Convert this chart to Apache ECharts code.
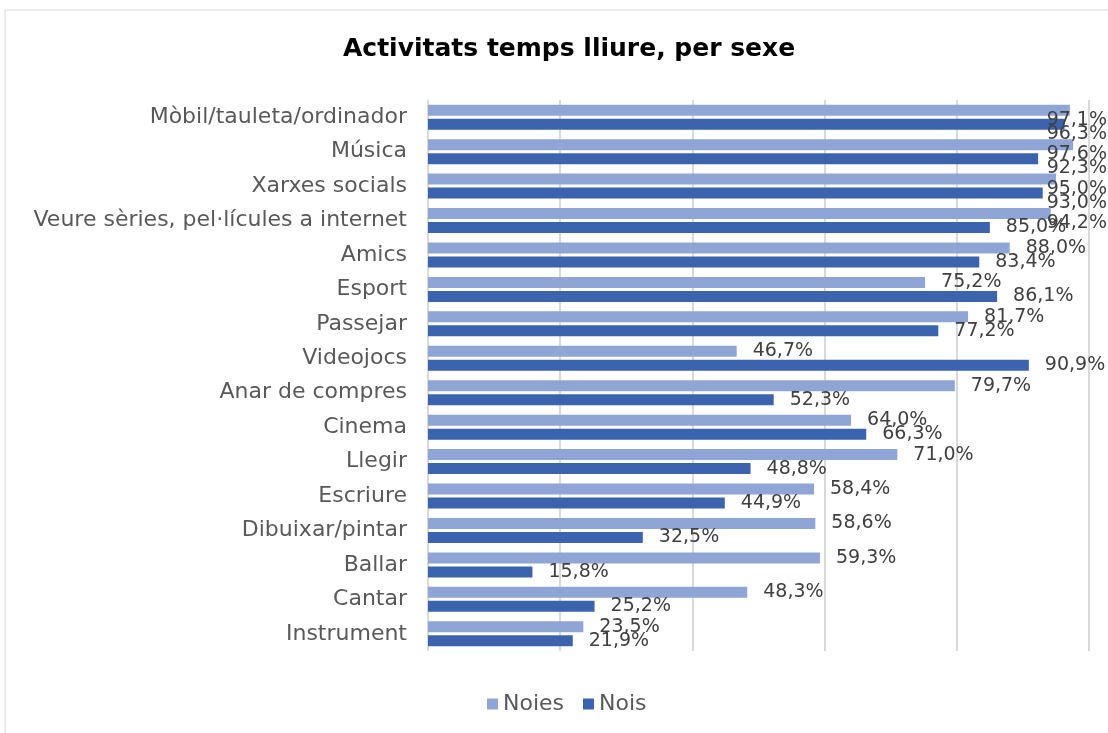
<!DOCTYPE html>
<html>
<head>
    <meta charset="utf-8">
    <title>Activitats temps lliure, per sexe</title>
    <script src="https://cdn.jsdelivr.net/npm/echarts@6/dist/echarts.min.js"></script>
    <style>
        html, body { margin: 0; padding: 0; background: #fff; }
        #main { width: 1108px; height: 733px; }
    </style>
</head>
<body>
<div id="main"></div>
<script>
    // categories, top to bottom
    var activitats = ['Mòbil/tauleta/ordinador', 'Música', 'Xarxes socials', 'Veure sèries, pel·lícules a internet',
        'Amics', 'Esport', 'Passejar', 'Videojocs', 'Anar de compres', 'Cinema', 'Llegir', 'Escriure',
        'Dibuixar/pintar', 'Ballar', 'Cantar', 'Instrument'];
    var noies = [97.1, 97.6, 95.0, 94.2, 88.0, 75.2, 81.7, 46.7, 79.7, 64.0, 71.0, 58.4, 58.6, 59.3, 48.3, 23.5];
    var nois  = [96.3, 92.3, 93.0, 85.0, 83.4, 86.1, 77.2, 90.9, 52.3, 66.3, 48.8, 44.9, 32.5, 15.8, 25.2, 21.9];

    var FONT = '"DejaVu Sans", "Open Sans", sans-serif';

    function pct(p) {
        return p.value.toFixed(1).replace('.', ',') + '%';
    }

    var etiqueta = {
        show: true,
        position: 'right',
        distance: 16,
        formatter: pct,
        color: '#404040',
        fontSize: 19,
        fontFamily: FONT
    };

    var chart = echarts.init(document.getElementById('main'));
    chart.setOption({
        backgroundColor: '#fff',
        animation: false,
        title: {
            text: 'Activitats temps lliure, per sexe',
            left: 338,
            top: 32,
            textStyle: { color: '#000', fontSize: 25, fontWeight: 'bold', fontFamily: FONT }
        },
        graphic: [{
            type: 'rect',
            shape: { x: 5, y: 10, width: 1200, height: 800 },
            style: { fill: 'none', stroke: '#d9d9d9', lineWidth: 1 },
            silent: true
        }],
        legend: {
            bottom: 13,
            left: 482,
            itemWidth: 11,
            itemHeight: 11,
            itemGap: 19,
            icon: 'rect',
            textStyle: { color: '#595959', fontSize: 22, fontFamily: FONT },
            data: ['Noies', 'Nois']
        },
        grid: { left: 428, right: 19, top: 100, bottom: 82, containLabel: false },
        xAxis: {
            type: 'value',
            min: 0,
            max: 100,
            interval: 20,
            axisLabel: { show: false },
            axisLine: { show: false },
            axisTick: { show: false },
            splitLine: { lineStyle: { color: '#d9d9d9', width: 2 } }
        },
        yAxis: {
            type: 'category',
            inverse: true,
            data: activitats,
            axisLine: { show: false },
            axisTick: { show: false },
            axisLabel: { color: '#595959', fontSize: 22, fontFamily: FONT, margin: 21 }
        },
        labelLayout: function (params) {
            var r = params.labelRect;
            var maxX = 1107;
            if (r.x + r.width > maxX) {
                return { x: maxX - r.width };
            }
        },
        series: [
            {
                name: 'Noies',
                type: 'bar',
                data: noies,
                barWidth: 11,
                barGap: '27%',
                itemStyle: { color: '#8fa5d6' },
                label: etiqueta
            },
            {
                name: 'Nois',
                type: 'bar',
                data: nois,
                barWidth: 11,
                itemStyle: { color: '#3c64ae' },
                label: etiqueta
            }
        ]
    });
</script>
</body>
</html>
